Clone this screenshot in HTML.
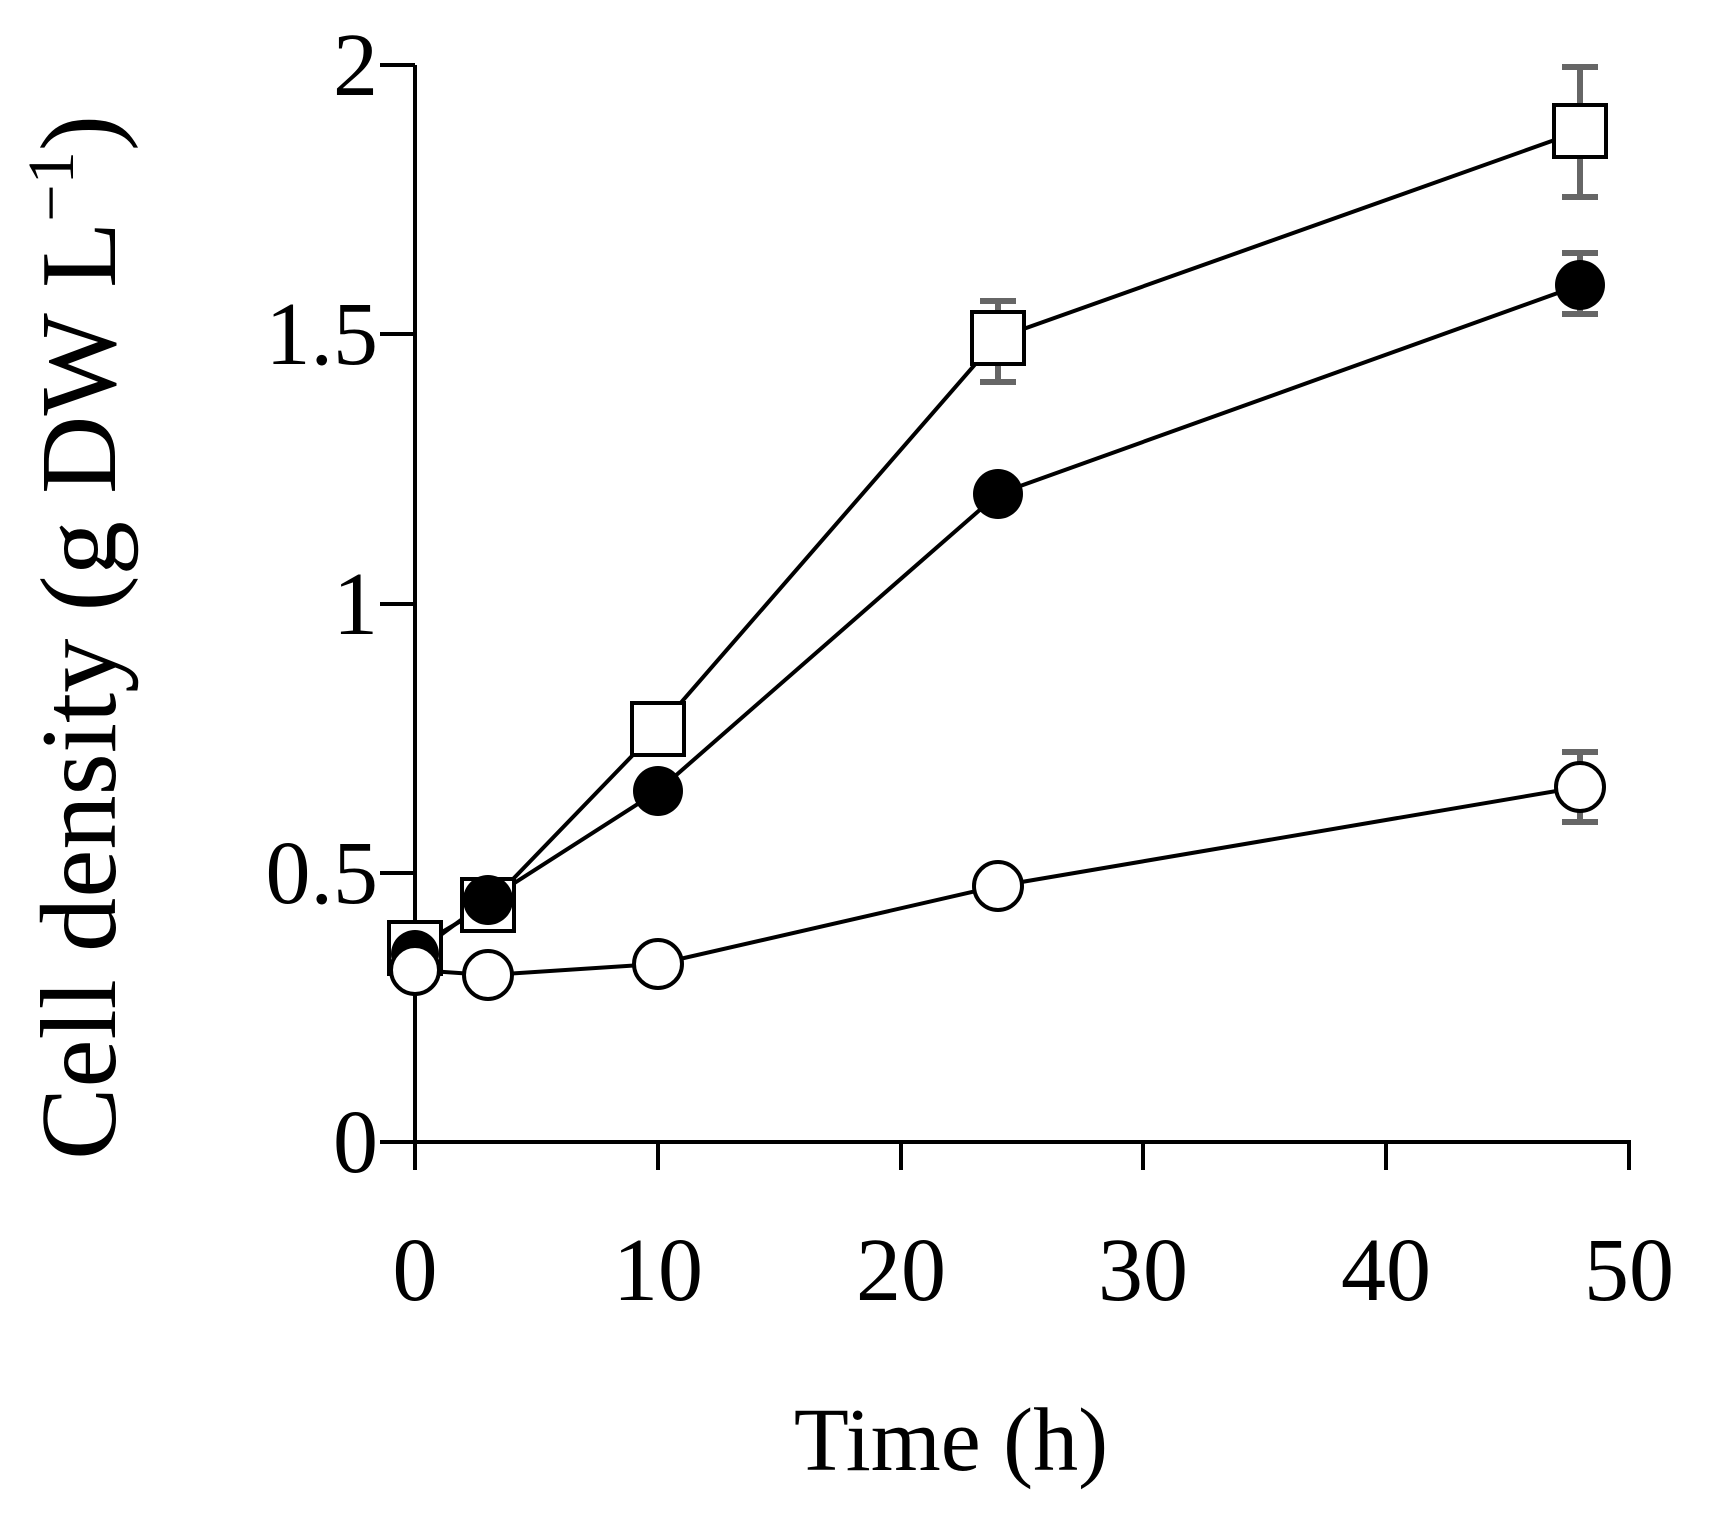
<!DOCTYPE html>
<html><head><style>html,body{margin:0;padding:0;background:#fff}</style></head><body>
<svg width="1713" height="1515" xmlns="http://www.w3.org/2000/svg" font-family="Liberation Serif, serif">
<rect width="1713" height="1515" fill="#fff"/>
<g stroke="#000" stroke-width="4" fill="none">
<line x1="415" y1="65" x2="415" y2="1170"/>
<line x1="380" y1="1142" x2="1631" y2="1142"/>
<line x1="380" y1="65" x2="415" y2="65"/>
<line x1="380" y1="334" x2="415" y2="334"/>
<line x1="380" y1="604" x2="415" y2="604"/>
<line x1="380" y1="873" x2="415" y2="873"/>
<line x1="658" y1="1142" x2="658" y2="1170"/>
<line x1="901" y1="1142" x2="901" y2="1170"/>
<line x1="1143" y1="1142" x2="1143" y2="1170"/>
<line x1="1386" y1="1142" x2="1386" y2="1170"/>
<line x1="1629" y1="1142" x2="1629" y2="1170"/>
</g>
<g font-size="90" text-anchor="end" fill="#000">
<text x="378" y="95">2</text>
<text x="378" y="364">1.5</text>
<text x="378" y="634">1</text>
<text x="378" y="903">0.5</text>
<text x="378" y="1172">0</text>
</g>
<g font-size="90" text-anchor="middle" fill="#000">
<text x="415" y="1300">0</text>
<text x="658" y="1300">10</text>
<text x="901" y="1300">20</text>
<text x="1143" y="1300">30</text>
<text x="1386" y="1300">40</text>
<text x="1629" y="1300">50</text>
<text x="951" y="1470">Time (h)</text>
</g>
<text font-size="108" fill="#000" transform="translate(115,1160) rotate(-90)" textLength="1045" lengthAdjust="spacingAndGlyphs">Cell density (g DW L<tspan font-size="66" dy="-42">−1</tspan><tspan dy="42">)</tspan></text>
<g stroke="#666" stroke-width="6">
<line x1="1580" y1="65" x2="1580" y2="197"/><line x1="1562" y1="67" x2="1598" y2="67"/><line x1="1562" y1="197" x2="1598" y2="197"/>
<line x1="998" y1="299" x2="998" y2="382"/><line x1="980" y1="301" x2="1016" y2="301"/><line x1="980" y1="382" x2="1016" y2="382"/>
<line x1="1580" y1="252" x2="1580" y2="315"/><line x1="1562" y1="253" x2="1598" y2="253"/><line x1="1562" y1="314" x2="1598" y2="314"/>
<line x1="1580" y1="750" x2="1580" y2="823"/><line x1="1562" y1="752" x2="1598" y2="752"/><line x1="1562" y1="822" x2="1598" y2="822"/>
</g>
<g stroke="#000" stroke-width="4" fill="none">
<polyline points="415,948 488,905 658,729 998,338 1580,131"/>
<polyline points="415,954 488,900 658,791 998,494 1580,285"/>
<polyline points="415,970 488,975 658,964 998,886 1580,787"/>
</g>
<g stroke="#000" stroke-width="4" fill="#fff">
<rect x="389" y="922" width="52" height="52"/>
<rect x="462" y="879" width="52" height="52"/>
<rect x="632" y="703" width="52" height="52"/>
<rect x="972" y="312" width="52" height="52"/>
<rect x="1554" y="105" width="52" height="52"/>
</g>
<g fill="#000">
<circle cx="415" cy="954" r="24"/><circle cx="488" cy="900" r="25"/><circle cx="658" cy="791" r="25"/><circle cx="998" cy="494" r="25"/><circle cx="1580" cy="285" r="25"/>
</g>
<g stroke="#000" stroke-width="4" fill="#fff">
<circle cx="415" cy="970" r="24"/><circle cx="488" cy="975" r="24"/><circle cx="658" cy="964" r="24"/><circle cx="998" cy="886" r="24"/><circle cx="1580" cy="787" r="24"/>
</g>
</svg>
</body></html>
